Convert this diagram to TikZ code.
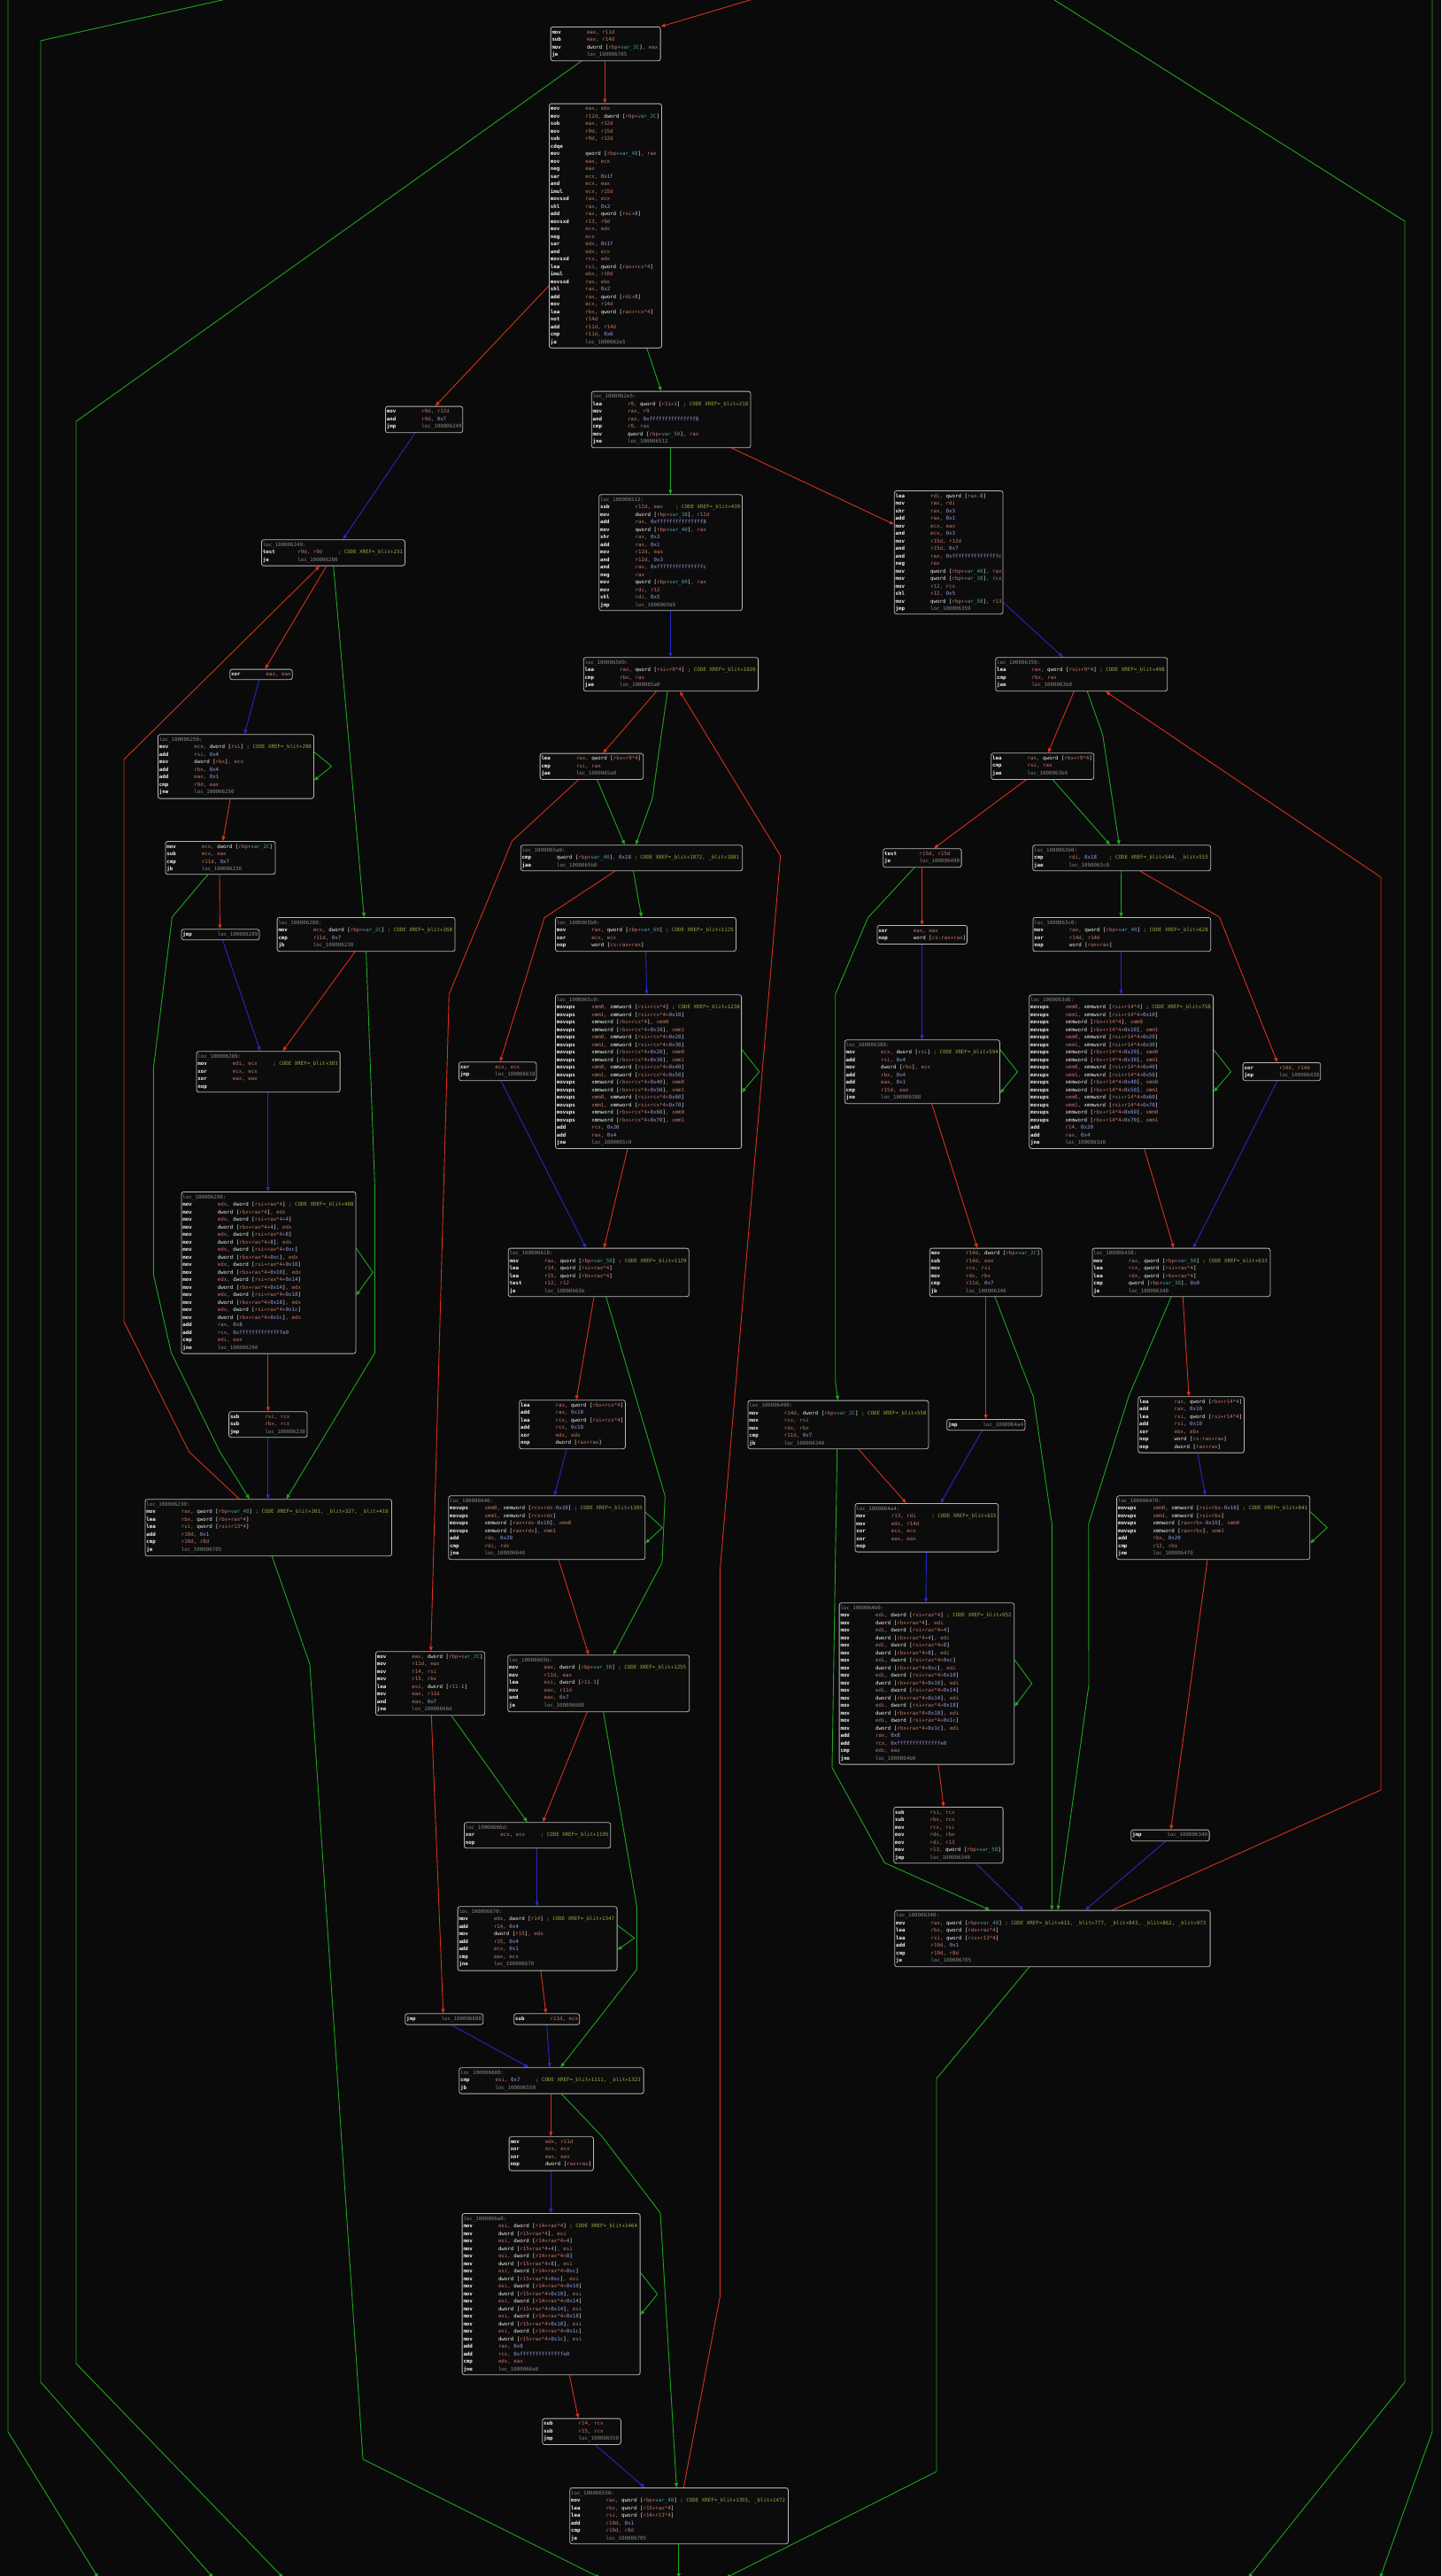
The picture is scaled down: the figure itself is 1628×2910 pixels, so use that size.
\documentclass[tikz,border=0pt]{standalone}
\usepackage{fontspec}
\newfontfamily\asm{DejaVu Sans Mono}
\usetikzlibrary{arrows.meta}
\pgfdeclarelayer{bg}
\pgfsetlayers{bg,main}
\definecolor{bgc}{HTML}{0A0A0A}
\definecolor{boxc}{HTML}{0C0C0C}
\definecolor{brd}{HTML}{B8B8B8}
\definecolor{mn}{HTML}{F2F2F2}
\definecolor{rg}{HTML}{C8786A}
\definecolor{nmc}{HTML}{9C9CE6}
\definecolor{vrc}{HTML}{4E9CA6}
\definecolor{lcc}{HTML}{8A8A8A}
\definecolor{cmc}{HTML}{9AAA44}
\definecolor{er}{HTML}{D8301C}
\definecolor{eg}{HTML}{1CA81C}
\definecolor{eb}{HTML}{2828C8}
\newcommand\asmf{\asm\fontsize{5.8pt}{8.5pt}\selectfont}
\newcommand\Ins[2]{\makebox[39.5pt][l]{\color{mn}\bfseries #1}{\color{rg}#2}}
\newcommand\InsC[3]{\makebox[39.5pt][l]{\color{mn}\bfseries #1}\sbox0{\color{rg}#2\ }\ifdim\wd0<45.5pt\makebox[45.5pt][l]{\usebox0}\else\usebox0\fi{\color{cmc}; CODE XREF=#3}}
\newcommand\Lbl[1]{{\color{lcc}#1:}}
\newcommand\Kw[1]{{\color{mn}#1}}
\newcommand\Nx[1]{{\color{nmc}#1}}
\newcommand\Vx[1]{{\color{vrc}#1}}
\newcommand\Lx[1]{{\color{lcc}#1}}
\newcommand\Mem[2]{\Kw{#1 [}#2\Kw{]}}
\newcommand\MvP[4]{\Ins{mov}{#1, \Mem{dword}{#2+rax*4+\Nx{#4}}}\\\Ins{mov}{\Mem{dword}{#3+rax*4+\Nx{#4}}, #1}}
\newcommand\MvU[3]{\Ins{movups}{xmm0, \Mem{xmmword}{rsi+#1*4+\Nx{#2}}}\\\Ins{movups}{xmm1, \Mem{xmmword}{rsi+#1*4+\Nx{#3}}}\\\Ins{movups}{\Mem{xmmword}{rbx+#1*4+\Nx{#2}}, xmm0}\\\Ins{movups}{\Mem{xmmword}{rbx+#1*4+\Nx{#3}}, xmm1}}
\tikzset{
  blk/.style={draw=brd, fill=boxc, rounded corners=2.5pt, line width=0.8pt, inner sep=0pt, anchor=north west},
  tx/.style={anchor=north west, inner sep=0pt, align=left, font=\asmf},
  edge/.style={line width=0.9pt, -{Triangle[length=5pt,width=4pt]}},
  er/.style={edge, draw=er},
  eg/.style={edge, draw=eg},
  eb/.style={edge, draw=eb}
}
\newcommand\bx[6]{\node[blk, minimum width={#4pt-#2pt}, minimum height={#5pt-#3pt}] (#1) at (#2,#3) {};
\node[tx] (#1t) at ([shift={(1.6,3.3)}]#1.north west) {\rule{0pt}{4.6pt}#6};}
\begin{document}
\catcode`\_=12
\begin{tikzpicture}[x=1pt,y=-1pt]
\begin{pgfonlayer}{bg}
\fill[bgc] (0,0) rectangle (1628,2910);
\end{pgfonlayer}
\useasboundingbox (0,0) rectangle (1628,2910);

\bx{b1}{621.7}{30}{745.7}{68.3}{\Ins{mov}{eax, r11d}\\\Ins{sub}{eax, r14d}\\\Ins{mov}{\Mem{dword}{rbp+\Vx{var_2C}}, eax}\\\Ins{je}{\Lx{loc_100006705}}}

\bx{b2}{620}{116.7}{747}{392.7}{\Ins{mov}{eax, ebx}\\\Ins{mov}{r12d, \Mem{dword}{rbp+\Vx{var_2C}}}\\\Ins{sub}{eax, r12d}\\\Ins{mov}{r9d, r15d}\\\Ins{sub}{r9d, r12d}\\\Ins{cdqe}{}\\\Ins{mov}{\Mem{qword}{rbp+\Vx{var_48}}, rax}\\\Ins{mov}{eax, ecx}\\\Ins{neg}{eax}\\\Ins{sar}{ecx, \Nx{0x1f}}\\\Ins{and}{ecx, eax}\\\Ins{imul}{ecx, r15d}\\\Ins{movsxd}{rax, ecx}\\\Ins{shl}{rax, \Nx{0x2}}\\\Ins{add}{rax, \Mem{qword}{rsi+\Nx{8}}}\\\Ins{movsxd}{r13, r9d}\\\Ins{mov}{ecx, edx}\\\Ins{neg}{ecx}\\\Ins{sar}{edx, \Nx{0x1f}}\\\Ins{and}{edx, ecx}\\\Ins{movsxd}{rcx, edx}\\\Ins{lea}{rsi, \Mem{qword}{rax+rcx*4}}\\\Ins{imul}{ebx, r10d}\\\Ins{movsxd}{rax, ebx}\\\Ins{shl}{rax, \Nx{0x2}}\\\Ins{add}{rax, \Mem{qword}{rdi+\Nx{8}}}\\\Ins{mov}{ecx, r14d}\\\Ins{lea}{rbx, \Mem{qword}{rax+rcx*4}}\\\Ins{not}{r14d}\\\Ins{add}{r11d, r14d}\\\Ins{cmp}{r11d, \Nx{0x6}}\\\Ins{ja}{\Lx{loc_1000062e5}}}

\bx{b3}{435}{458.7}{522.4}{488.3}{\Ins{mov}{r9d, r12d}\\\Ins{and}{r9d, \Nx{0x7}}\\\Ins{jmp}{\Lx{loc_100006249}}}

\bx{b4}{667.8}{441.7}{847.6}{505.3}{\Lbl{loc_1000062e5}\\\InsC{lea}{r9, \Mem{qword}{r11+\Nx{1}}}{_blit+218}\\\Ins{mov}{rax, r9}\\\Ins{and}{rax, \Nx{0xfffffffffffffff8}}\\\Ins{cmp}{r9, rax}\\\Ins{mov}{\Mem{qword}{rbp+\Vx{var_50}}, rax}\\\Ins{jne}{\Lx{loc_100006512}}}

\bx{b5}{676.3}{558.3}{838.1}{689.3}{\Lbl{loc_100006512}\\\InsC{sub}{r12d, eax}{_blit+439}\\\Ins{mov}{\Mem{dword}{rbp+\Vx{var_38}}, r12d}\\\Ins{add}{rax, \Nx{0xfffffffffffffff8}}\\\Ins{mov}{\Mem{qword}{rbp+\Vx{var_40}}, rax}\\\Ins{shr}{rax, \Nx{0x3}}\\\Ins{add}{rax, \Nx{0x1}}\\\Ins{mov}{r12d, eax}\\\Ins{and}{r12d, \Nx{0x3}}\\\Ins{and}{rax, \Nx{0xfffffffffffffffc}}\\\Ins{neg}{rax}\\\Ins{mov}{\Mem{qword}{rbp+\Vx{var_60}}, rax}\\\Ins{mov}{rdi, r12}\\\Ins{shl}{rdi, \Nx{0x5}}\\\Ins{jmp}{\Lx{loc_100006569}}}

\bx{b6}{1009.9}{554}{1132.6}{693.3}{\Ins{lea}{rdi, \Mem{qword}{rax-\Nx{8}}}\\\Ins{mov}{rax, rdi}\\\Ins{shr}{rax, \Nx{0x3}}\\\Ins{add}{rax, \Nx{0x1}}\\\Ins{mov}{ecx, eax}\\\Ins{and}{ecx, \Nx{0x3}}\\\Ins{mov}{r15d, r12d}\\\Ins{and}{r15d, \Nx{0x7}}\\\Ins{and}{rax, \Nx{0xfffffffffffffffc}}\\\Ins{neg}{rax}\\\Ins{mov}{\Mem{qword}{rbp+\Vx{var_40}}, rax}\\\Ins{mov}{\Mem{qword}{rbp+\Vx{var_38}}, rcx}\\\Ins{mov}{r12, rcx}\\\Ins{shl}{r12, \Nx{0x5}}\\\Ins{mov}{\Mem{qword}{rbp+\Vx{var_58}}, r13}\\\Ins{jmp}{\Lx{loc_100006359}}}

\bx{b7}{295}{609.3}{457}{638.7}{\Lbl{loc_100006249}\\\InsC{test}{r9d, r9d}{_blit+231}\\\Ins{je}{\Lx{loc_100006280}}}

\bx{b8}{658.8}{742.3}{856.2}{780.3}{\Lbl{loc_100006569}\\\InsC{lea}{rax, \Mem{qword}{rsi+r9*4}}{_blit+1026}\\\Ins{cmp}{rbx, rax}\\\Ins{jae}{\Lx{loc_1000065a0}}}

\bx{b9}{1124.3}{742.3}{1318.3}{780.3}{\Lbl{loc_100006359}\\\InsC{lea}{rax, \Mem{qword}{rsi+r9*4}}{_blit+498}\\\Ins{cmp}{rbx, rax}\\\Ins{jae}{\Lx{loc_1000063b0}}}

\bx{b10}{259.3}{755.7}{329.8}{767.3}{\Ins{xor}{eax, eax}}

\bx{b11}{178}{829.3}{354}{901.7}{\Lbl{loc_100006250}\\\InsC{mov}{ecx, \Mem{dword}{rsi}}{_blit+290}\\\Ins{add}{rsi, \Nx{0x4}}\\\Ins{mov}{\Mem{dword}{rbx}, ecx}\\\Ins{add}{rbx, \Nx{0x4}}\\\Ins{add}{eax, \Nx{0x1}}\\\Ins{cmp}{r9d, eax}\\\Ins{jne}{\Lx{loc_100006250}}}

\bx{b12}{609.7}{850.7}{726.3}{880}{\Ins{lea}{rax, \Mem{qword}{rbx+r9*4}}\\\Ins{cmp}{rsi, rax}\\\Ins{jae}{\Lx{loc_1000065a0}}}

\bx{b13}{1119.3}{850.3}{1235.3}{880}{\Ins{lea}{rax, \Mem{qword}{rbx+r9*4}}\\\Ins{cmp}{rsi, rax}\\\Ins{jae}{\Lx{loc_1000063b0}}}

\bx{b14}{186.5}{950}{310.6}{987.3}{\Ins{mov}{ecx, \Mem{dword}{rbp+\Vx{var_2C}}}\\\Ins{sub}{ecx, eax}\\\Ins{cmp}{r11d, \Nx{0x7}}\\\Ins{jb}{\Lx{loc_100006230}}}

\bx{b15}{587.9}{954.3}{838.3}{983.3}{\Lbl{loc_1000065a0}\\\InsC{cmp}{\Mem{qword}{rbp+\Vx{var_40}}, \Nx{0x18}}{_blit+1072, _blit+1081}\\\Ins{jae}{\Lx{loc_1000065b0}}}

\bx{b16}{997.3}{958.3}{1085.7}{979.3}{\Ins{test}{r15d, r15d}\\\Ins{je}{\Lx{loc_100006490}}}

\bx{b17}{1166.3}{954.3}{1367.3}{983.3}{\Lbl{loc_1000063b0}\\\InsC{cmp}{rdi, \Nx{0x18}}{_blit+544, _blit+553}\\\Ins{jae}{\Lx{loc_1000063c0}}}

\bx{b18}{312.7}{1036}{513.6}{1074.3}{\Lbl{loc_100006280}\\\InsC{mov}{ecx, \Mem{dword}{rbp+\Vx{var_2C}}}{_blit+268}\\\Ins{cmp}{r11d, \Nx{0x7}}\\\Ins{jb}{\Lx{loc_100006230}}}

\bx{b19}{204.6}{1049.3}{292.6}{1061.3}{\Ins{jmp}{\Lx{loc_100006289}}}

\bx{b20}{627}{1036}{831}{1074.3}{\Lbl{loc_1000065b0}\\\InsC{mov}{rax, \Mem{qword}{rbp+\Vx{var_60}}}{_blit+1125}\\\Ins{xor}{ecx, ecx}\\\Ins{nop}{\Mem{word}{cs:rax+rax}}}

\bx{b21}{990.6}{1045}{1092.2}{1066}{\Ins{xor}{eax, eax}\\\Ins{nop}{\Mem{word}{cs:rax+rax}}}

\bx{b22}{1166.5}{1036}{1367.3}{1074.3}{\Lbl{loc_1000063c0}\\\InsC{mov}{rax, \Mem{qword}{rbp+\Vx{var_40}}}{_blit+628}\\\Ins{xor}{r14d, r14d}\\\Ins{nop}{\Mem{word}{rax+rax}}}

\bx{b23}{627}{1123.3}{837.2}{1297}{\Lbl{loc_1000065c0}\\\InsC{movups}{xmm0, \Mem{xmmword}{rsi+rcx*4}}{_blit+1238}\\\Ins{movups}{xmm1, \Mem{xmmword}{rsi+rcx*4+\Nx{0x10}}}\\\Ins{movups}{\Mem{xmmword}{rbx+rcx*4}, xmm0}\\\Ins{movups}{\Mem{xmmword}{rbx+rcx*4+\Nx{0x10}}, xmm1}\\\MvU{rcx}{0x20}{0x30}\\\MvU{rcx}{0x40}{0x50}\\\MvU{rcx}{0x60}{0x70}\\\Ins{add}{rcx, \Nx{0x20}}\\\Ins{add}{rax, \Nx{0x4}}\\\Ins{jne}{\Lx{loc_1000065c0}}}

\bx{b24}{1162.4}{1123.3}{1370.2}{1297}{\Lbl{loc_1000063d0}\\\InsC{movups}{xmm0, \Mem{xmmword}{rsi+r14*4}}{_blit+758}\\\Ins{movups}{xmm1, \Mem{xmmword}{rsi+r14*4+\Nx{0x10}}}\\\Ins{movups}{\Mem{xmmword}{rbx+r14*4}, xmm0}\\\Ins{movups}{\Mem{xmmword}{rbx+r14*4+\Nx{0x10}}, xmm1}\\\MvU{r14}{0x20}{0x30}\\\MvU{r14}{0x40}{0x50}\\\MvU{r14}{0x60}{0x70}\\\Ins{add}{r14, \Nx{0x20}}\\\Ins{add}{rax, \Nx{0x4}}\\\Ins{jne}{\Lx{loc_1000063d0}}}

\bx{b25}{221.6}{1187.3}{383.7}{1233.3}{\Lbl{loc_100006289}\\\InsC{mov}{edi, ecx}{_blit+303}\\\Ins{xor}{ecx, ecx}\\\Ins{xor}{eax, eax}\\\Ins{nop}{}}

\bx{b26}{518}{1199.3}{605.5}{1220.3}{\Ins{xor}{ecx, ecx}\\\Ins{jmp}{\Lx{loc_100006618}}}

\bx{b27}{953.9}{1174.3}{1129}{1246.3}{\Lbl{loc_100006380}\\\InsC{mov}{ecx, \Mem{dword}{rsi}}{_blit+594}\\\Ins{add}{rsi, \Nx{0x4}}\\\Ins{mov}{\Mem{dword}{rbx}, ecx}\\\Ins{add}{rbx, \Nx{0x4}}\\\Ins{add}{eax, \Nx{0x1}}\\\Ins{cmp}{r15d, eax}\\\Ins{jne}{\Lx{loc_100006380}}}

\bx{b28}{1403.7}{1200}{1491.4}{1220.3}{\Ins{xor}{r14d, r14d}\\\Ins{jmp}{\Lx{loc_100006438}}}

\bx{b29}{204.6}{1346}{401.5}{1528.7}{\Lbl{loc_100006290}\\\InsC{mov}{edx, \Mem{dword}{rsi+rax*4}}{_blit+408}\\\Ins{mov}{\Mem{dword}{rbx+rax*4}, edx}\\\MvP{edx}{rsi}{rbx}{4}\\\MvP{edx}{rsi}{rbx}{8}\\\MvP{edx}{rsi}{rbx}{0xc}\\\MvP{edx}{rsi}{rbx}{0x10}\\\MvP{edx}{rsi}{rbx}{0x14}\\\MvP{edx}{rsi}{rbx}{0x18}\\\MvP{edx}{rsi}{rbx}{0x1c}\\\Ins{add}{rax, \Nx{0x8}}\\\Ins{add}{rcx, \Nx{0xffffffffffffffe0}}\\\Ins{cmp}{edi, eax}\\\Ins{jne}{\Lx{loc_100006290}}}

\bx{b30}{573.8}{1409.7}{777.9}{1464.3}{\Lbl{loc_100006618}\\\InsC{mov}{rax, \Mem{qword}{rbp+\Vx{var_50}}}{_blit+1129}\\\Ins{lea}{r14, \Mem{qword}{rsi+rax*4}}\\\Ins{lea}{r15, \Mem{qword}{rbx+rax*4}}\\\Ins{test}{r12, r12}\\\Ins{je}{\Lx{loc_10000665b}}}

\bx{b31}{1049.8}{1409.7}{1176.6}{1464.3}{\Ins{mov}{r14d, \Mem{dword}{rbp+\Vx{var_2C}}}\\\Ins{sub}{r14d, eax}\\\Ins{mov}{rcx, rsi}\\\Ins{mov}{rdx, rbx}\\\Ins{cmp}{r11d, \Nx{0x7}}\\\Ins{jb}{\Lx{loc_100006340}}}

\bx{b32}{1233.5}{1409.7}{1434.5}{1464.3}{\Lbl{loc_100006438}\\\InsC{mov}{rax, \Mem{qword}{rbp+\Vx{var_50}}}{_blit+633}\\\Ins{lea}{rcx, \Mem{qword}{rsi+rax*4}}\\\Ins{lea}{rdx, \Mem{qword}{rbx+rax*4}}\\\Ins{cmp}{\Mem{qword}{rbp+\Vx{var_38}}, \Nx{0x0}}\\\Ins{je}{\Lx{loc_100006340}}}

\bx{b33}{586.3}{1581.3}{706}{1636.3}{\Ins{lea}{rax, \Mem{qword}{rbx+rcx*4}}\\\Ins{add}{rax, \Nx{0x10}}\\\Ins{lea}{rcx, \Mem{qword}{rsi+rcx*4}}\\\Ins{add}{rcx, \Nx{0x10}}\\\Ins{xor}{edx, edx}\\\Ins{nop}{\Mem{dword}{rax+rax}}}

\bx{b34}{258.2}{1594.3}{346.6}{1623.3}{\Ins{sub}{rsi, rcx}\\\Ins{sub}{rbx, rcx}\\\Ins{jmp}{\Lx{loc_100006230}}}

\bx{b35}{844.6}{1581.7}{1048.5}{1636.3}{\Lbl{loc_100006490}\\\InsC{mov}{r14d, \Mem{dword}{rbp+\Vx{var_2C}}}{_blit+558}\\\Ins{mov}{rcx, rsi}\\\Ins{mov}{rdx, rbx}\\\Ins{cmp}{r11d, \Nx{0x7}}\\\Ins{jb}{\Lx{loc_100006340}}}

\bx{b36}{1069.3}{1603}{1157.6}{1615.3}{\Ins{jmp}{\Lx{loc_1000064a4}}}

\bx{b37}{1285.3}{1577.3}{1405.1}{1640.7}{\Ins{lea}{rax, \Mem{qword}{rbx+r14*4}}\\\Ins{add}{rax, \Nx{0x10}}\\\Ins{lea}{rsi, \Mem{qword}{rsi+r14*4}}\\\Ins{add}{rsi, \Nx{0x10}}\\\Ins{xor}{ebx, ebx}\\\Ins{nop}{\Mem{word}{cs:rax+rax}}\\\Ins{nop}{\Mem{dword}{rax+rax}}}

\bx{b38}{163.6}{1693.3}{442.1}{1757.3}{\Lbl{loc_100006230}\\\InsC{mov}{rax, \Mem{qword}{rbp+\Vx{var_48}}}{_blit+301, _blit+327, _blit+416}\\\Ins{lea}{rbx, \Mem{qword}{rbx+rax*4}}\\\Ins{lea}{rsi, \Mem{qword}{rsi+r13*4}}\\\Ins{add}{r10d, \Nx{0x1}}\\\Ins{cmp}{r10d, r8d}\\\Ins{je}{\Lx{loc_100006705}}}

\bx{b39}{506.4}{1689.3}{728.3}{1761.3}{\Lbl{loc_100006640}\\\InsC{movups}{xmm0, \Mem{xmmword}{rcx+rdx-\Nx{0x10}}}{_blit+1305}\\\Ins{movups}{xmm1, \Mem{xmmword}{rcx+rdx}}\\\Ins{movups}{\Mem{xmmword}{rax+rdx-\Nx{0x10}}, xmm0}\\\Ins{movups}{\Mem{xmmword}{rax+rdx}, xmm1}\\\Ins{add}{rdx, \Nx{0x20}}\\\Ins{cmp}{rdi, rdx}\\\Ins{jne}{\Lx{loc_100006640}}}

\bx{b40}{965.6}{1698}{1127.3}{1752.7}{\Lbl{loc_1000064a4}\\\InsC{mov}{r13, rdi}{_blit+615}\\\Ins{mov}{edx, r14d}\\\Ins{xor}{ecx, ecx}\\\Ins{xor}{eax, eax}\\\Ins{nop}{}}

\bx{b41}{1261.2}{1689.3}{1479.3}{1761.3}{\Lbl{loc_100006470}\\\InsC{movups}{xmm0, \Mem{xmmword}{rsi+rbx-\Nx{0x10}}}{_blit+841}\\\Ins{movups}{xmm1, \Mem{xmmword}{rsi+rbx}}\\\Ins{movups}{\Mem{xmmword}{rax+rbx-\Nx{0x10}}, xmm0}\\\Ins{movups}{\Mem{xmmword}{rax+rbx}, xmm1}\\\Ins{add}{rbx, \Nx{0x20}}\\\Ins{cmp}{r12, rbx}\\\Ins{jne}{\Lx{loc_100006470}}}

\bx{b42}{947.7}{1810.3}{1145.3}{1992.7}{\Lbl{loc_1000064b0}\\\InsC{mov}{edi, \Mem{dword}{rsi+rax*4}}{_blit+952}\\\Ins{mov}{\Mem{dword}{rbx+rax*4}, edi}\\\MvP{edi}{rsi}{rbx}{4}\\\MvP{edi}{rsi}{rbx}{8}\\\MvP{edi}{rsi}{rbx}{0xc}\\\MvP{edi}{rsi}{rbx}{0x10}\\\MvP{edi}{rsi}{rbx}{0x14}\\\MvP{edi}{rsi}{rbx}{0x18}\\\MvP{edi}{rsi}{rbx}{0x1c}\\\Ins{add}{rax, \Nx{0x8}}\\\Ins{add}{rcx, \Nx{0xffffffffffffffe0}}\\\Ins{cmp}{edx, eax}\\\Ins{jne}{\Lx{loc_1000064b0}}}

\bx{b43}{424}{1865.3}{547.3}{1937.3}{\Ins{mov}{eax, \Mem{dword}{rbp+\Vx{var_2C}}}\\\Ins{mov}{r11d, eax}\\\Ins{mov}{r14, rsi}\\\Ins{mov}{r15, rbx}\\\Ins{lea}{esi, \Mem{dword}{r11-\Nx{1}}}\\\Ins{mov}{eax, r11d}\\\Ins{and}{eax, \Nx{0x7}}\\\Ins{jne}{\Lx{loc_10000666d}}}

\bx{b44}{573.3}{1869.3}{778.3}{1933.3}{\Lbl{loc_10000665b}\\\InsC{mov}{eax, \Mem{dword}{rbp+\Vx{var_38}}}{_blit+1255}\\\Ins{mov}{r11d, eax}\\\Ins{lea}{esi, \Mem{dword}{r11-\Nx{1}}}\\\Ins{mov}{eax, r11d}\\\Ins{and}{eax, \Nx{0x7}}\\\Ins{je}{\Lx{loc_100006688}}}

\bx{b45}{524}{2058.3}{689.3}{2087.3}{\Lbl{loc_10000666d}\\\InsC{xor}{ecx, ecx}{_blit+1105}\\\Ins{nop}{}}

\bx{b46}{1009.3}{2041}{1132.7}{2104.3}{\Ins{sub}{rsi, rcx}\\\Ins{sub}{rbx, rcx}\\\Ins{mov}{rcx, rsi}\\\Ins{mov}{rdx, rbx}\\\Ins{mov}{rdi, r13}\\\Ins{mov}{r13, \Mem{qword}{rbp+\Vx{var_58}}}\\\Ins{jmp}{\Lx{loc_100006340}}}

\bx{b47}{1277.3}{2066.7}{1365.7}{2079.3}{\Ins{jmp}{\Lx{loc_100006340}}}

\bx{b48}{1010.3}{2157.7}{1366.7}{2221.3}{\Lbl{loc_100006340}\\\InsC{mov}{rax, \Mem{qword}{rbp+\Vx{var_48}}}{_blit+613, _blit+777, _blit+843, _blit+862, _blit+973}\\\Ins{lea}{rbx, \Mem{qword}{rdx+rax*4}}\\\Ins{lea}{rsi, \Mem{qword}{rcx+r13*4}}\\\Ins{add}{r10d, \Nx{0x1}}\\\Ins{cmp}{r10d, r8d}\\\Ins{je}{\Lx{loc_100006705}}}

\bx{b49}{516.7}{2153.3}{696.7}{2225.7}{\Lbl{loc_100006670}\\\InsC{mov}{edx, \Mem{dword}{r14}}{_blit+1347}\\\Ins{add}{r14, \Nx{0x4}}\\\Ins{mov}{\Mem{dword}{r15}, edx}\\\Ins{add}{r15, \Nx{0x4}}\\\Ins{add}{ecx, \Nx{0x1}}\\\Ins{cmp}{eax, ecx}\\\Ins{jne}{\Lx{loc_100006670}}}

\bx{b50}{457.3}{2274.3}{545.3}{2286.7}{\Ins{jmp}{\Lx{loc_100006688}}}

\bx{b51}{580.3}{2274.3}{654.3}{2286.7}{\Ins{sub}{r11d, ecx}}

\bx{b52}{518.3}{2335.3}{726.7}{2364.7}{\Lbl{loc_100006688}\\\InsC{cmp}{esi, \Nx{0x7}}{_blit+1111, _blit+1323}\\\Ins{jb}{\Lx{loc_100006550}}}

\bx{b53}{574.7}{2413.3}{670}{2451.7}{\Ins{mov}{edx, r11d}\\\Ins{xor}{ecx, ecx}\\\Ins{xor}{eax, eax}\\\Ins{nop}{\Mem{dword}{rax+rax}}}

\bx{b54}{521.7}{2500}{722.7}{2682.3}{\Lbl{loc_1000066a0}\\\InsC{mov}{esi, \Mem{dword}{r14+rax*4}}{_blit+1464}\\\Ins{mov}{\Mem{dword}{r15+rax*4}, esi}\\\MvP{esi}{r14}{r15}{4}\\\MvP{esi}{r14}{r15}{8}\\\MvP{esi}{r14}{r15}{0xc}\\\MvP{esi}{r14}{r15}{0x10}\\\MvP{esi}{r14}{r15}{0x14}\\\MvP{esi}{r14}{r15}{0x18}\\\MvP{esi}{r14}{r15}{0x1c}\\\Ins{add}{rax, \Nx{0x8}}\\\Ins{add}{rcx, \Nx{0xffffffffffffffe0}}\\\Ins{cmp}{edx, eax}\\\Ins{jne}{\Lx{loc_1000066a0}}}

\bx{b55}{612.3}{2731.7}{701}{2761}{\Ins{sub}{r14, rcx}\\\Ins{sub}{r15, rcx}\\\Ins{jmp}{\Lx{loc_100006550}}}

\bx{b56}{643.3}{2810}{890}{2873.3}{\Lbl{loc_100006550}\\\InsC{mov}{rax, \Mem{qword}{rbp+\Vx{var_48}}}{_blit+1355, _blit+1472}\\\Ins{lea}{rbx, \Mem{qword}{r15+rax*4}}\\\Ins{lea}{rsi, \Mem{qword}{r14+r13*4}}\\\Ins{add}{r10d, \Nx{0x1}}\\\Ins{cmp}{r10d, r8d}\\\Ins{je}{\Lx{loc_100006705}}}

% free ends
\coordinate (top1) at (854,-2);
\coordinate (xL1) at (111,2912);
\coordinate (xL2) at (241,2912);
\coordinate (xL4) at (320,2912);
\coordinate (xL3) at (678,2912);
\coordinate (xM1) at (766.7,2912);
\coordinate (xM2) at (820,2912);
\coordinate (xR2) at (1410,2912);
\coordinate (xR3) at (1559,2912);
\coordinate (tL1) at (9,-2);
\coordinate (tL2) at (260,-2);
\coordinate (tR1) at (1618,-2);
\coordinate (tR2) at (1188,-2);

\begin{pgfonlayer}{bg}
% entry
\draw[er] (top1) -- (b1.north east);
\draw[er] (b1.south -| 683.3,0) -- (b2.north -| 683.3,0);
\draw[eg] (b1.center) -- (86,476) -- (86,2670) -- (xL4);
\draw[er] (b2.center) -- (b3.north -| 491.7,0);
\draw[eg] (b2.center) -- (b4.north -| 747,0);
\draw[eb] (b3.center) -- (b7.north -| 387.4,0);
\draw[eg] (b4.south -| 757.4,0) -- (b5.north -| 757.4,0);
\draw[er] (b4.center) -- (b6.west |- 0,592.3);
\draw[eb] (b5.south -| 757.4,0) -- (b8.north -| 757.4,0);
\draw[eb] (b6.center) -- (b9.north -| 1200.7,0);
% left column
\draw[er] (b7.south -| 368.7,0) -- (b10.north -| 299.5,0);
\draw[eg] (b7.south -| 376.7,0) -- (b18.north -| 411.3,0);
\draw[eb] (b10.south -| 292.8,0) -- (b11.north -| 276.2,0);
\draw[eg] (b11.east |- 0,849.3) -- (374.5,865.7) -- (b11.east |- 0,881.7);
\draw[er] (b11.south -| 260.2,0) -- (b14.north -| 251.7,0);
\draw[er] (b14.south -| 248,0) -- (b19.north -| 248.4,0);
\draw[eg] (b14.south -| 234.7,0) -- (194.4,1036) -- (173.4,1206.7) -- (173.4,1440) -- (193.5,1528.3) -- (248.4,1640) -- (b38.north -| 281.9,0);
\draw[eg] (b18.south -| 413.6,0) -- (423.4,1340) -- (423.4,1528.3) -- (b38.north -| 323.4,0);
\draw[er] (b18.south -| 401,0) -- (b25.north -| 319.4,0);
\draw[eb] (b19.south -| 251.5,0) -- (b25.north -| 294,0);
\draw[eb] (b25.south -| 302.9,0) -- (b29.north -| 302.9,0);
\draw[eg] (b29.east |- 0,1410) -- (421.2,1437.3) -- (b29.east |- 0,1463.3);
\draw[er] (b29.south -| 302.9,0) -- (b34.north -| 302.9,0);
\draw[eb] (b34.south -| 302.9,0) -- (b38.north -| 302.9,0);
\draw[er] (b38.north -| 270.3,0) -- (213.6,1640) -- (140,1493) -- (140,858) -- (b7.south -| 361,0);
\draw[eg] (b38.south -| 307.3,0) -- (350,1880) -- (410,2778) -- (xL3);
% middle column
\draw[er] (b8.south -| 741.4,0) -- (b12.north -| 681.2,0);
\draw[eg] (b8.south -| 754,0) -- (737,901.7) -- (b15.north -| 718.2,0);
\draw[eg] (b12.south -| 674.5,0) -- (b15.north -| 705.7,0);
\draw[er] (b12.south -| 653.5,0) -- (578.5,950) -- (507.3,1123.3) -- (b43.north -| 486.7,0);
\draw[eg] (b15.south -| 715.5,0) -- (b20.north -| 724.7,0);
\draw[er] (b15.south -| 694.6,0) -- (615,1036.7) -- (b26.north -| 565,0);
\draw[eb] (b20.south -| 729.6,0) -- (b23.north -| 730.5,0);
\draw[eg] (b23.east |- 0,1185.7) -- (857.8,1210.7) -- (b23.east |- 0,1234);
\draw[er] (b23.south -| 709,0) -- (b30.north -| 682.3,0);
\draw[eb] (b26.south -| 566,0) -- (b30.north -| 662,0);
\draw[er] (b30.south -| 671,0) -- (b33.north -| 651,0);
\draw[eg] (b30.south -| 684.6,0) -- (751.3,1690) -- (748,1765) -- (b44.north -| 692.7,0);
\draw[eb] (b33.south -| 640,0) -- (b39.north -| 626.5,0);
\draw[eg] (b39.east |- 0,1708.3) -- (748.4,1725.7) -- (b39.east |- 0,1743.3);
\draw[er] (b39.south -| 631,0) -- (b44.north -| 665,0);
\draw[eg] (b43.south -| 510,0) -- (b45.north -| 595.7,0);
\draw[er] (b43.south -| 487.3,0) -- (b50.north -| 500.7,0);
\draw[er] (b44.south -| 663.3,0) -- (b45.north -| 613.3,0);
\draw[eg] (b44.south -| 681.7,0) -- (719.3,2153.3) -- (719.3,2225) -- (b52.north -| 633.3,0);
\draw[eb] (b45.south -| 606.7,0) -- (b49.north -| 606.7,0);
\draw[eg] (b49.east |- 0,2175) -- (716.7,2189.3) -- (b49.east |- 0,2202.7);
\draw[er] (b49.south -| 611,0) -- (b51.north -| 616.7,0);
\draw[eb] (b50.south -| 510,0) -- (b52.north -| 597.3,0);
\draw[eb] (b51.south -| 617.7,0) -- (b52.north -| 621,0);
\draw[er] (b52.south -| 622.3,0) -- (b53.north -| 622.3,0);
\draw[eg] (b52.south -| 634.3,0) -- (680,2413.3) -- (746,2500) -- (b56.north -| 764.3,0);
\draw[eb] (b53.south -| 622.3,0) -- (b54.north -| 622.3,0);
\draw[eg] (b54.east |- 0,2567.3) -- (742.7,2591.7) -- (b54.east |- 0,2615);
\draw[er] (b54.south -| 643.3,0) -- (b55.north -| 653.3,0);
\draw[eb] (b55.south -| 672.3,0) -- (b56.north -| 728.3,0);
\draw[er] (b56.north -| 772.3,0) -- (813.3,2595) -- (813.3,1775) -- (881.7,966.7) -- (b8.south -| 768,0);
\draw[eg] (b56.south -| 766.7,0) -- (xM1);
% right column
\draw[er] (b9.south -| 1213.3,0) -- (b13.north -| 1184,0);
\draw[eg] (b9.south -| 1228.3,0) -- (1245.7,830) -- (b17.north -| 1264.3,0);
\draw[eg] (b13.south -| 1189.3,0) -- (b17.north -| 1254,0);
\draw[er] (b13.south -| 1159.3,0) -- (b16.north -| 1055,0);
\draw[er] (b16.south -| 1041.6,0) -- (b21.north -| 1041.6,0);
\draw[eg] (b16.south -| 1033,0) -- (980.4,1036.7) -- (943.7,1123.3) -- (943.7,1560) -- (b35.north -| 946.6,0);
\draw[eg] (b17.south -| 1266.7,0) -- (b22.north -| 1266.5,0);
\draw[er] (b17.south -| 1288,0) -- (1377.6,1036) -- (b28.north -| 1442.9,0);
\draw[eb] (b21.south -| 1041.6,0) -- (b27.north -| 1041.6,0);
\draw[eb] (b22.south -| 1266.5,0) -- (b24.north -| 1266.5,0);
\draw[eg] (b27.east |- 0,1185.7) -- (1149.4,1210.7) -- (b27.east |- 0,1235);
\draw[eg] (b24.east |- 0,1185.7) -- (1390.6,1210.7) -- (b24.east |- 0,1233.3);
\draw[er] (b27.south -| 1052.7,0) -- (b31.north -| 1104,0);
\draw[er] (b24.south -| 1292.7,0) -- (b32.north -| 1325.9,0);
\draw[eb] (b28.south -| 1442.9,0) -- (b32.north -| 1347.9,0);
\draw[er] (b31.south -| 1113.6,0) -- (b36.north -| 1113.6,0);
\draw[eg] (b31.south -| 1124,0) -- (1167.5,1578.3) -- (1188.3,1721.7) -- (b48.north -| 1188.3,0);
\draw[er] (b32.south -| 1336.3,0) -- (b37.north -| 1343,0);
\draw[eg] (b32.south -| 1323,0) -- (1275.3,1576.7) -- (1229.7,1721.7) -- (1230,1903.3) -- (b48.north -| 1195,0);
\draw[er] (b35.south -| 969.8,0) -- (b40.north -| 1023.7,0);
\draw[eg] (b35.south -| 945.7,0) -- (940,1996.7) -- (999.3,2104.3) -- (b48.north -| 1118.3,0);
\draw[eb] (b36.south -| 1109.5,0) -- (b40.north -| 1062.6,0);
\draw[eb] (b37.south -| 1352.9,0) -- (b41.north -| 1361.6,0);
\draw[eg] (b41.east |- 0,1707.7) -- (1499.3,1725.7) -- (b41.east |- 0,1743.3);
\draw[er] (b41.south -| 1364,0) -- (b47.north -| 1322.7,0);
\draw[eb] (b47.south -| 1316.7,0) -- (b48.north -| 1226,0);
\draw[eb] (b40.south -| 1046.5,0) -- (b42.north -| 1046,0);
\draw[eg] (b42.east |- 0,1875) -- (1165.7,1901.7) -- (b42.east |- 0,1927.7);
\draw[er] (b42.south -| 1060,0) -- (b46.north -| 1066,0);
\draw[eb] (b46.south -| 1102.7,0) -- (b48.north -| 1156,0);
\draw[er] (b48.north -| 1256.7,0) -- (1560,2022) -- (1560,991) -- (b9.south -| 1249,0);
\draw[eg] (b48.south -| 1162.7,0) -- (1058,2348) -- (1058,2792) -- (xM2);
% outer pass-through edges
\draw[eg] (tL1) -- (9,2747) -- (xL1);
\draw[eg] (tL2) -- (46,46) -- (46,2691) -- (xL2);
\draw[eg] (tR1) -- (1618,2747) -- (xR3);
\draw[eg] (tR2) -- (1587,250) -- (1587,2691) -- (xR2);
\end{pgfonlayer}
\end{tikzpicture}
\end{document}
